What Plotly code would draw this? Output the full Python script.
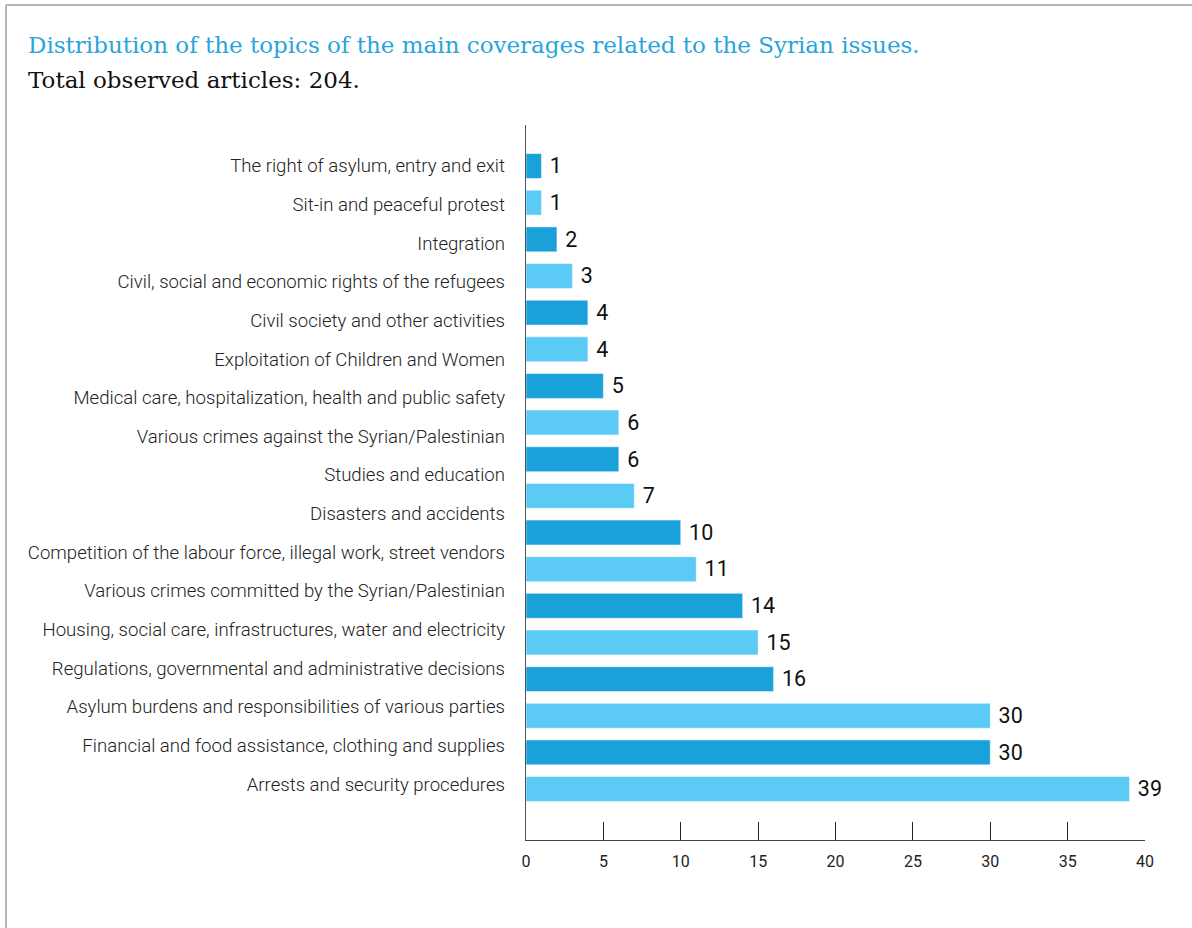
import plotly.graph_objects as go

# 17 topic labels as printed in the source
topics = [
    "The right of asylum, entry and exit",
    "Sit-in and peaceful protest",
    "Integration",
    "Civil, social and economic rights of the refugees",
    "Civil society and other activities",
    "Exploitation of Children and Women",
    "Medical care, hospitalization, health and public safety",
    "Various crimes against the Syrian/Palestinian",
    "Studies and education",
    "Disasters and accidents",
    "Competition of the labour force, illegal work, street vendors",
    "Various crimes committed by the Syrian/Palestinian",
    "Housing, social care, infrastructures, water and electricity",
    "Regulations, governmental and administrative decisions",
    "Asylum burdens and responsibilities of various parties",
    "Financial and food assistance, clothing and supplies",
    "Arrests and security procedures",
]
# 18 bars as drawn in the source (one more bar than labels)
articles = [1, 1, 2, 3, 4, 4, 5, 6, 6, 7, 10, 11, 14, 15, 16, 30, 30, 39]
x_ticks = [0, 5, 10, 15, 20, 25, 30, 35, 40]

DARK = "#1aa1da"
LIGHT = "#5bcbf5"

W, H = 1192, 928
L, R, T, B = 526, 47, 125, 88  # plot area margins in px


def px(x):  # pixel x -> paper
    return (x - L) / (W - L - R)


def py(y):  # pixel y -> paper
    return (H - B - y) / (H - T - B)


bar_idx = list(range(len(articles)))
colors = [DARK if i % 2 == 0 else LIGHT for i in bar_idx]

fig = go.Figure()
fig.add_trace(go.Bar(
    x=articles, y=bar_idx, orientation="h",
    width=0.68,
    marker=dict(color=colors, line=dict(color="rgba(255,255,255,0.5)", width=1)),
    text=articles, texttemplate=" %{x}", textposition="outside", cliponaxis=False,
    textfont=dict(family="Roboto", size=25, color="#111"),
    hoverinfo="x",
))
# invisible trace carrying the topic labels on the overlaid axis
fig.add_trace(go.Scatter(
    x=[0] * len(topics), y=list(range(len(topics))), yaxis="y2",
    mode="markers", marker=dict(opacity=0), hoverinfo="skip",
))

fig.update_layout(
    width=W, height=H,
    margin=dict(l=L, r=R, t=T, b=B),
    paper_bgcolor="white", plot_bgcolor="white",
    showlegend=False,
    xaxis=dict(
        range=[0, 40], tickvals=x_ticks, ticks="inside", ticklen=18, tickwidth=1,
        tickcolor="#222", showline=True, linecolor="#444", linewidth=1,
        showgrid=False, zeroline=False,
        tickfont=dict(family="Roboto", size=16, color="#222"),
        ticklabelstandoff=7,
    ),
    yaxis=dict(
        range=[18.39, -1.12], showticklabels=False, ticks="",
        showline=True, linecolor="#555", linewidth=1,
        showgrid=False, zeroline=False,
    ),
    yaxis2=dict(
        overlaying="y", side="left", anchor="x",
        range=[17.45, -1.06], tickvals=list(range(len(topics))), ticktext=topics,
        ticks="", showline=False, showgrid=False, zeroline=False,
        tickfont=dict(family="Roboto", size=18.6, color="#222", weight=300),
        ticklabelstandoff=20,
    ),
    bargap=0.32,
)

fig.add_annotation(
    xref="paper", yref="paper", x=px(26), y=py(45), xanchor="left", yanchor="middle",
    text="Distribution of the topics of the main coverages related to the Syrian issues.",
    showarrow=False, font=dict(family="DejaVu Serif", size=23, color="#29a4dc"),
)
fig.add_annotation(
    xref="paper", yref="paper", x=px(26), y=py(80), xanchor="left", yanchor="middle",
    text="Total observed articles: 204.",
    showarrow=False, font=dict(family="DejaVu Serif", size=23, color="#111"),
)

# frame lines at the top and left edge of the picture
fig.add_shape(type="line", xref="paper", yref="paper",
              x0=px(6), x1=px(W), y0=py(5), y1=py(5),
              line=dict(color="#b5b5b5", width=2))
fig.add_shape(type="line", xref="paper", yref="paper",
              x0=px(6), x1=px(6), y0=py(5), y1=py(H),
              line=dict(color="#b5b5b5", width=2))

# drop the default page margin so figure pixels match page pixels
fig.write_html("out.html", config={"displayModeBar": False},
               post_script="document.body.style.margin='0';")
